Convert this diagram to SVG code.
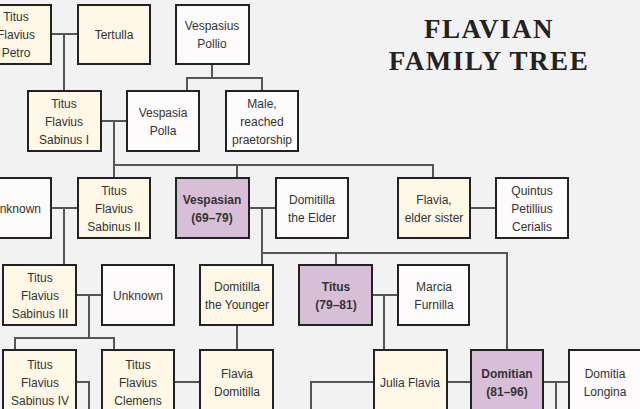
<svg xmlns="http://www.w3.org/2000/svg" width="640" height="409" viewBox="0 0 640 409">
<style>
.b{stroke:#222;stroke-width:2}
.c{fill:#fff8e7}.w{fill:#fdfbfb}.p{fill:#d8bfd8}
text{font-family:"Liberation Sans",Arial,sans-serif;font-size:12px;fill:#333;text-anchor:middle}
.bd{font-weight:bold}
.t{font-family:"Liberation Serif",serif;font-size:27px;font-weight:bold;fill:#222;letter-spacing:1.5px}
#con path{stroke:#555;stroke-width:2;fill:none}
</style>
<rect width="640" height="409" fill="#f2f2f2"/>
<text class="t" x="489" y="38">FLAVIAN</text>
<text class="t" x="489" y="70">FAMILY TREE</text>
<g id="con">
<path d="M51 34H78M64 34V91"/>
<path d="M212 64V78M187 91V78H262V91"/>
<path d="M101 121H127M114 121V165H433V178M114 165V178M237 165V178"/>
<path d="M51 208H78M64 208V265"/>
<path d="M249 208H276M262 208V265M262 253H507V350M336 253V265"/>
<path d="M470 208H496"/>
<path d="M76 295H102M89 295V338M15 350V338H114V350"/>
<path d="M237 325V350"/>
<path d="M372 295H398M384 295V350"/>
<path d="M76 382H89V409M174 382H200M374 382H311V409M447 382H471M543 382H569M556 382V409"/>
</g>
<g id="petro"><rect class="b c" x="-20" y="5" width="71" height="59"/><text x="16" y="21">Titus</text><text x="16" y="39">Flavius</text><text x="16" y="57">Petro</text></g>
<g id="tertulla"><rect class="b c" x="78" y="5" width="72" height="59"/><text x="114" y="39">Tertulla</text></g>
<g id="pollio"><rect class="b w" x="176" y="5" width="73" height="59"/><text x="212" y="30">Vespasius</text><text x="212" y="48">Pollio</text></g>
<g id="sabinus1"><rect class="b c" x="28" y="91" width="73" height="60"/><text x="64" y="108">Titus</text><text x="64" y="126">Flavius</text><text x="64" y="144">Sabinus I</text></g>
<g id="polla"><rect class="b w" x="127" y="91" width="72" height="60"/><text x="163" y="117">Vespasia</text><text x="163" y="135">Polla</text></g>
<g id="male"><rect class="b w" x="226" y="91" width="72" height="60"/><text x="262" y="108">Male,</text><text x="262" y="126">reached</text><text x="262" y="144">praetorship</text></g>
<g id="unknown1"><rect class="b w" x="-20" y="178" width="71" height="60"/><text x="16" y="213">Unknown</text></g>
<g id="sabinus2"><rect class="b c" x="78" y="178" width="72" height="60"/><text x="114" y="195">Titus</text><text x="114" y="213">Flavius</text><text x="114" y="231">Sabinus II</text></g>
<g id="vespasian"><rect class="b p" x="176" y="178" width="73" height="60"/><text class="bd" x="212" y="204">Vespasian</text><text class="bd" x="212" y="222">(69–79)</text></g>
<g id="domitillaElder"><rect class="b w" x="276" y="178" width="72" height="60"/><text x="312" y="204">Domitilla</text><text x="312" y="222">the Elder</text></g>
<g id="flavia"><rect class="b c" x="398" y="178" width="72" height="60"/><text x="434" y="204">Flavia,</text><text x="434" y="222">elder sister</text></g>
<g id="cerialis"><rect class="b w" x="496" y="178" width="72" height="60"/><text x="532" y="195">Quintus</text><text x="532" y="213">Petillius</text><text x="532" y="231">Cerialis</text></g>
<g id="sabinus3"><rect class="b c" x="3" y="265" width="73" height="60"/><text x="40" y="282">Titus</text><text x="40" y="300">Flavius</text><text x="40" y="318">Sabinus III</text></g>
<g id="unknown2"><rect class="b w" x="102" y="265" width="72" height="60"/><text x="138" y="300">Unknown</text></g>
<g id="domitillaYounger"><rect class="b c" x="200" y="265" width="73" height="60"/><text x="237" y="291">Domitilla</text><text x="237" y="309">the Younger</text></g>
<g id="titus"><rect class="b p" x="299" y="265" width="73" height="60"/><text class="bd" x="336" y="291">Titus</text><text class="bd" x="336" y="309">(79–81)</text></g>
<g id="marcia"><rect class="b w" x="398" y="265" width="71" height="60"/><text x="434" y="291">Marcia</text><text x="434" y="309">Furnilla</text></g>
<g id="sabinus4"><rect class="b c" x="3" y="350" width="73" height="70"/><text x="40" y="369">Titus</text><text x="40" y="387">Flavius</text><text x="40" y="405">Sabinus IV</text></g>
<g id="clemens"><rect class="b c" x="102" y="350" width="72" height="70"/><text x="138" y="369">Titus</text><text x="138" y="387">Flavius</text><text x="138" y="405">Clemens</text></g>
<g id="flaviaDomitilla"><rect class="b c" x="200" y="350" width="73" height="70"/><text x="237" y="378">Flavia</text><text x="237" y="396">Domitilla</text></g>
<g id="juliaFlavia"><rect class="b c" x="374" y="350" width="73" height="70"/><text x="410" y="387">Julia Flavia</text></g>
<g id="domitian"><rect class="b p" x="471" y="350" width="72" height="70"/><text class="bd" x="507" y="378">Domitian</text><text class="bd" x="507" y="396">(81–96)</text></g>
<g id="longina"><rect class="b w" x="569" y="350" width="80" height="70"/><text x="605" y="378">Domitia</text><text x="605" y="396">Longina</text></g>
</svg>
